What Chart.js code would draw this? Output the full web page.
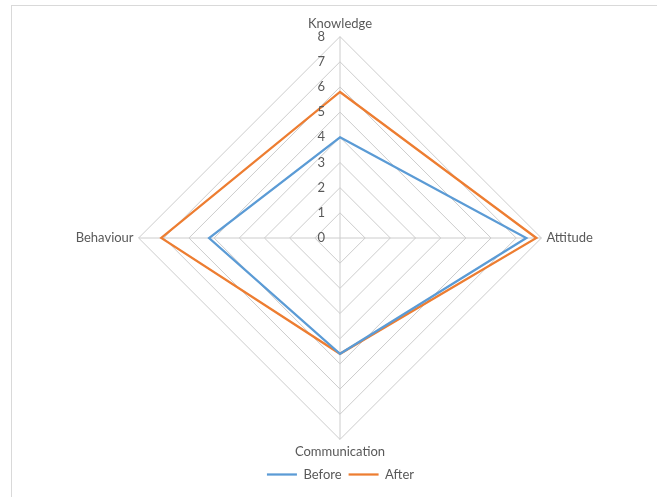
<!DOCTYPE html>
<html>
<head>
<meta charset="utf-8">
<script src="https://cdn.jsdelivr.net/npm/chart.js@4/dist/chart.umd.min.js"></script>
<style>
  html, body { margin: 0; padding: 0; background: #fff; }
  body { width: 657px; height: 497px; overflow: hidden; position: relative; }
  #frame { position: absolute; left: 11px; top: 5px; width: 700px; height: 600px;
           border-top: 1px solid #d9d9d9; border-left: 1px solid #d9d9d9; }
  #wrap { position: absolute; left: 12px; top: 6px; width: 645px; height: 491px; }
</style>
</head>
<body>
<div id="frame"></div>
<div id="wrap"><canvas id="chart"></canvas></div>
<script>
// Skill areas assessed, scores before and after the programme
const categories = ['Knowledge', 'Attitude', 'Communication', 'Behaviour'];
const beforeScores = [4, 7.4, 4.6, 5.2];
const afterScores = [5.8, 7.8, 4.6, 7.1];
const tickValues = [0, 1, 2, 3, 4, 5, 6, 7, 8];

const FONT = 'Lato, "Open Sans", sans-serif';
const TEXT = '#595959';
const GRID = '#cccccc';

// Scale numbers sit just left of the vertical axis
const tickLabelPlugin = {
  id: 'tickLabels',
  afterDraw(chart) {
    const s = chart.scales.r;
    const ctx = chart.ctx;
    ctx.save();
    ctx.font = '13px ' + FONT;
    ctx.fillStyle = TEXT;
    ctx.textAlign = 'right';
    ctx.textBaseline = 'middle';
    tickValues.forEach(v => {
      const y = s.yCenter - s.getDistanceFromCenterForValue(v);
      ctx.fillText(String(v), s.xCenter - 15, y);
    });
    ctx.restore();
  }
};

new Chart(document.getElementById('chart'), {
  type: 'radar',
  data: {
    labels: categories,
    datasets: [
      { label: 'Before', data: beforeScores, borderColor: '#5b9bd5', backgroundColor: 'transparent',
        borderWidth: 2.25, pointRadius: 0, pointHoverRadius: 0, fill: false, tension: 0 },
      { label: 'After', data: afterScores, borderColor: '#ed7d31', backgroundColor: 'transparent',
        borderWidth: 2.25, pointRadius: 0, pointHoverRadius: 0, fill: false, tension: 0 }
    ]
  },
  options: {
    responsive: true,
    maintainAspectRatio: false,
    animation: false,
    layout: { padding: { top: 10, bottom: 6, left: 12, right: 0 } },
    plugins: {
      tooltip: { enabled: false },
      legend: {
        position: 'bottom',
        labels: {
          usePointStyle: true,
          pointStyle: 'line',
          pointStyleWidth: 30,
          color: TEXT,
          font: { family: FONT, size: 13 },
          padding: 7
        }
      }
    },
    scales: {
      r: {
        min: 0,
        max: 8,
        beginAtZero: true,
        ticks: { display: false, stepSize: 1 },
        grid: { color: GRID, lineWidth: 1 },
        angleLines: { color: GRID, lineWidth: 1 },
        pointLabels: { color: TEXT, font: { family: FONT, size: 13 }, padding: 5 }
      }
    }
  },
  plugins: [tickLabelPlugin]
});
</script>
</body>
</html>
